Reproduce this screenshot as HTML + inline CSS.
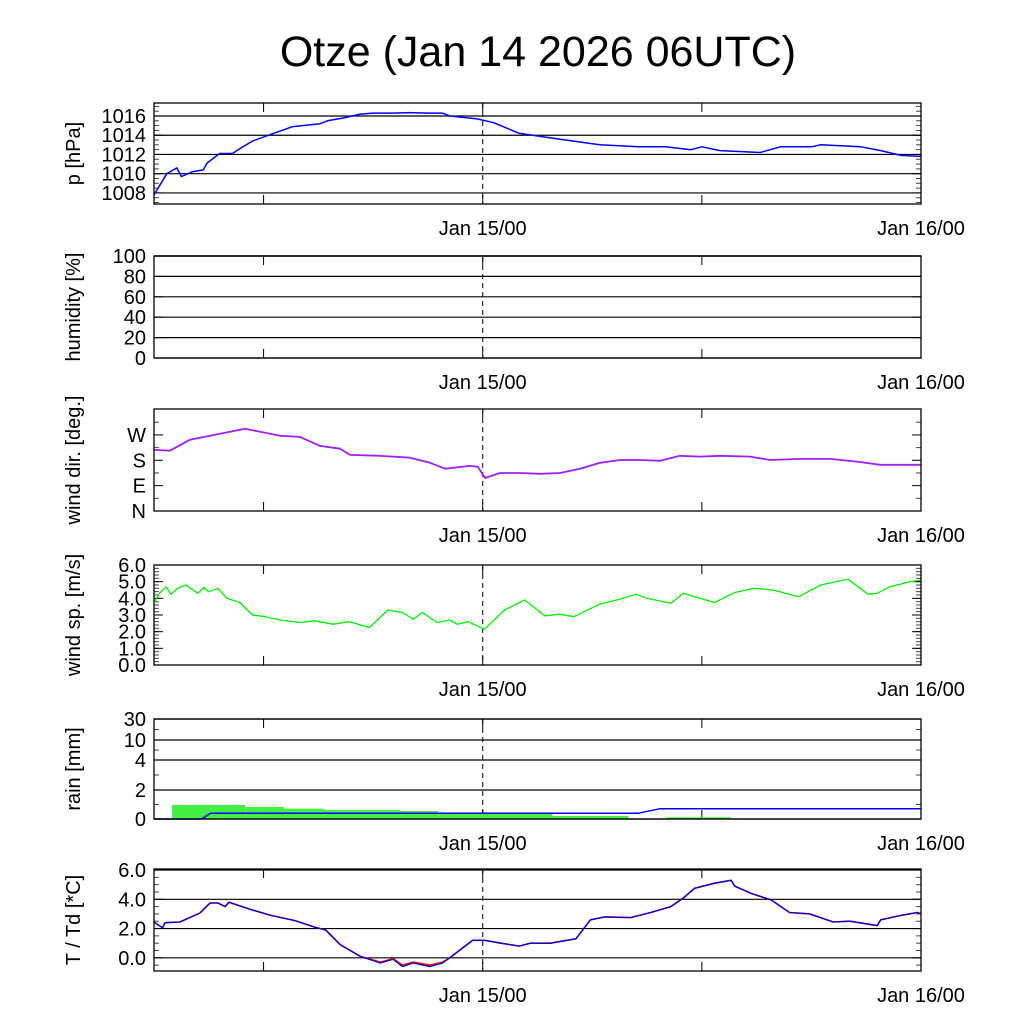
<!DOCTYPE html>
<html><head><meta charset="utf-8"><style>
html,body{margin:0;padding:0;background:#fff;width:1024px;height:1024px;overflow:hidden}
svg text{font-family:"Liberation Sans",sans-serif}
</style></head><body>
<svg id="chart" width="1024" height="1024" viewBox="0 0 1024 1024" xmlns="http://www.w3.org/2000/svg">
<text x="538" y="66" font-size="43" text-anchor="middle">Otze (Jan 14 2026 06UTC)</text>
</svg>
<script>
// time axis: hours since Jan 14 06UTC
const xTickHours = [6, 18, 30];
const xLabelHours = [18, 42];
const xLabels = ["Jan 15/00", "Jan 16/00"];

const pHours = [0,0.7,1.25,1.5,2.1,2.7,2.9,3.6,4.3,4.7,5.4,6.4,7.6,9.1,9.5,10.4,11.3,12,13,14,15,15.8,16.2,17.7,18.6,20,21.1,22.2,24.4,26.6,28,29.4,30,31,33.2,34.3,36,36.5,38.7,39.8,40.9,42];
const pVals = [1007.8,1010.0,1010.6,1009.7,1010.2,1010.4,1011.1,1012.1,1012.1,1012.6,1013.4,1014.1,1014.9,1015.2,1015.5,1015.8,1016.2,1016.3,1016.3,1016.35,1016.3,1016.3,1016.0,1015.7,1015.3,1014.2,1013.9,1013.6,1013.0,1012.8,1012.8,1012.5,1012.8,1012.4,1012.2,1012.8,1012.8,1013.0,1012.8,1012.4,1011.9,1011.8];
const pTicks = [1008,1010,1012,1014,1016];

const rhHours = [0,42];
const rhVals = [100,100];
const rhTicks = [0,20,40,60,80,100];

const wdX = [154,170,190,220,245,260,280,300,320,340,350,380,410,430,445,470,478,485,500,520,540,560,580,600,620,640,660,680,700,720,750,770,800,830,860,880,921];
const wdHours = wdX.map(x => (x-154)/18.26);
const wdVals = [217,214,253,274,292,281,267,263,231,221,199,196,189,171,150,160,157,117,135,135,132,135,150,171,181,181,178,196,193,196,193,181,185,185,174,164,164];
const wdTicks = [0,90,180,270];
const wdLabels = ["N","E","S","W"];

const wsHours = [0,0.3,0.66,0.93,1.3,1.75,2.4,2.74,3,3.5,4,4.7,5.4,6.1,6.9,8,8.8,9.8,10.7,11.8,12.8,13.6,14.2,14.7,15.5,16.2,16.6,17.2,18.1,19.2,20.3,21.4,22.2,23,24.4,25.5,26.4,27,28.3,29,29.6,30.7,31.8,32.9,33.9,35.3,36.5,38,39.1,39.6,40.3,41.4,42];
const wsVals = [3.7,4.3,4.7,4.25,4.6,4.8,4.3,4.65,4.4,4.6,4.0,3.75,3.0,2.9,2.7,2.55,2.65,2.45,2.6,2.25,3.3,3.15,2.75,3.15,2.55,2.7,2.45,2.6,2.15,3.3,3.9,2.95,3.05,2.9,3.65,3.95,4.25,4.0,3.7,4.3,4.1,3.75,4.35,4.6,4.5,4.1,4.8,5.15,4.25,4.3,4.7,5.0,5.1];
const wsTicks = [0,1,2,3,4,5,6];

const rainStart = [0.99,4.99,7.12,9.32,13.48,15.56,21.8,28.05];
const rainEnd = [4.99,7.12,9.32,13.48,15.56,21.8,25.97,31.6];
const rainVals = [0.97,0.83,0.71,0.62,0.55,0.46,0.21,0.12];
const accHours = [0,2.6,3.1,26.5,27.7,42];
const accVals = [0,0,0.39,0.39,0.71,0.71];
const rainTicks = [0,2,4,10,30];

const tHours = [0,0.47,0.6,1.42,2.5,3.07,3.5,3.9,4.1,5.3,6.4,7.7,8.8,9.4,10.2,11.3,12.4,13.1,13.6,14.2,15.1,15.8,16.2,17.45,18.1,19,20,20.6,21.7,23.1,23.9,24.7,26.1,27.2,28.3,29,29.6,30.7,31.6,31.8,32.7,33.8,34.8,35.9,37.2,38.1,39.6,39.8,40.9,41.8,42];
const tVals = [2.45,2.05,2.4,2.45,3.05,3.75,3.75,3.5,3.8,3.3,2.9,2.55,2.1,1.9,0.9,0.1,-0.35,-0.1,-0.6,-0.35,-0.6,-0.35,0,1.2,1.2,1.0,0.8,1.0,1.0,1.3,2.6,2.8,2.75,3.1,3.5,4.1,4.75,5.1,5.3,4.9,4.4,3.95,3.1,3.0,2.45,2.5,2.2,2.6,2.9,3.1,3.0];
const tdVals = [2.45,2.05,2.4,2.45,3.05,3.75,3.75,3.5,3.8,3.3,2.9,2.55,2.1,1.9,0.9,0.1,-0.3,-0.05,-0.5,-0.3,-0.5,-0.3,0,1.2,1.2,1.0,0.8,1.0,1.0,1.3,2.6,2.8,2.75,3.1,3.5,4.1,4.75,5.1,5.3,4.9,4.4,3.95,3.1,3.0,2.45,2.5,2.2,2.6,2.9,3.1,3.0];
const tTicks = [0,2,4,6];

const svg = document.getElementById('chart');
const NS = 'http://www.w3.org/2000/svg';
const L = 154, R = 921, H0 = 0, H1 = 42;
const FS = 20;
const xs = h => L + (h - H0) / (H1 - H0) * (R - L);
function mk(tag, attrs, parent) {
  const e = document.createElementNS(NS, tag);
  for (const k in attrs) e.setAttribute(k, attrs[k]);
  (parent || svg).appendChild(e);
  return e;
}
function linScale(d0, d1, top, bot) { return v => bot - (v - d0) / (d1 - d0) * (bot - top); }
function pwScale(dom, rng) {
  return v => {
    for (let i = 0; i < dom.length - 1; i++) {
      if (v <= dom[i+1] || i === dom.length - 2) {
        return rng[i] + (v - dom[i]) / (dom[i+1] - dom[i]) * (rng[i+1] - rng[i]);
      }
    }
  };
}
function panel(name, top, bot, ys, ticks, labels, fmt, grid, minorTicks, ylabel) {
  const g = mk('g', {});
  
  
  if (grid) ticks.forEach(t => {
    const gl = mk('line', {x1: L, x2: R, y1: ys(t), y2: ys(t), stroke: '#000', 'stroke-width': 1.2}, g);
    
    
  });
  (minorTicks || []).forEach(t => {
    mk('line', {x1: L, x2: L + 5, y1: ys(t), y2: ys(t), stroke: '#444', 'stroke-width': 1}, g);
    mk('line', {x1: R - 5, x2: R, y1: ys(t), y2: ys(t), stroke: '#444', 'stroke-width': 1}, g);
  });
  ticks.forEach((t, i) => {
    mk('line', {x1: L, x2: L + 9, y1: ys(t), y2: ys(t), stroke: '#000'}, g);
    mk('line', {x1: R - 9, x2: R, y1: ys(t), y2: ys(t), stroke: '#000'}, g);
    const tx = mk('text', {x: L - 8, y: ys(t) + 7, 'font-size': FS, 'text-anchor': 'end'}, g);
    
    
    tx.textContent = labels ? labels[i] : fmt(t);
  });
  xTickHours.forEach(h => {
    mk('line', {x1: xs(h), x2: xs(h), y1: bot, y2: bot - 9, stroke: '#000'}, g);
    mk('line', {x1: xs(h), x2: xs(h), y1: top, y2: top + 9, stroke: '#000'}, g);
  });
  const dl = mk('line', {x1: xs(18), x2: xs(18), y1: top, y2: bot, stroke: '#000', 'stroke-dasharray': '5,4'}, g);
  
  
  xLabelHours.forEach((h, i) => {
    const tx = mk('text', {x: xs(h), y: bot + 31, 'font-size': FS, 'text-anchor': 'middle'}, g);
    
    
    tx.textContent = xLabels[i];
  });
  const yl = mk('text', {x: 0, y: 0, 'font-size': FS, 'text-anchor': 'middle', transform: `translate(80,${(top + bot) / 2}) rotate(-90)`}, g);
  
  
  yl.textContent = ylabel;
  return g;
}
function frame(g, top, bot) {
  mk('rect', {x: L, y: top, width: R - L, height: bot - top, fill: 'none', stroke: '#000', 'stroke-width': 1.3}, g);
}
function line(g, hours, vals, ys, color, name, w) {
  const d = hours.map((h, i) => (i ? 'L' : 'M') + xs(h).toFixed(1) + ',' + ys(vals[i]).toFixed(1)).join('');
  const p = mk('path', {d: d, fill: 'none', stroke: color, 'stroke-width': w || 1.5, 'stroke-linejoin': 'round'}, g);
  
  
}
function range(a, b, s) { const r = []; for (let v = a; v <= b + 1e-9; v += s) r.push(+v.toFixed(3)); return r; }

// pressure
let ys = linScale(1006.85, 1017.35, 103, 204);
let g = panel('pressure', 103, 204, ys, pTicks, null, v => v, true, range(1007, 1017, 0.5), 'p [hPa]');
line(g, pHours, pVals, ys, '#0000ff', 'pressure-line');
frame(g, 103, 204);

// humidity
ys = linScale(0, 100, 256, 358);
g = panel('humidity', 256, 358, ys, rhTicks, null, v => v, true, [], 'humidity [%]');
line(g, rhHours, rhVals, ys, '#006400', 'humidity-line');
frame(g, 256, 358);

// wind direction
ys = linScale(0, 362, 409, 511);
g = panel('wind-dir', 409, 511, ys, wdTicks, wdLabels, null, false, [45, 135, 225, 315], 'wind dir. [deg.]');
line(g, wdHours, wdVals, ys, '#a020f0', 'wind-direction-line', 1.8);
frame(g, 409, 511);

// wind speed
ys = linScale(0, 6.0, 565, 665);
g = panel('wind-speed', 565, 665, ys, wsTicks, null, v => v.toFixed(1), false, range(0, 6, 0.2), 'wind sp. [m/s]');
line(g, wsHours, wsVals, ys, '#00ee00', 'wind-speed-line', 1.3);
frame(g, 565, 665);

// rain
ys = pwScale(rainTicks, [819, 790, 760, 740, 719]);
g = panel('rain', 719, 819, ys, rainTicks, null, v => v, true, [1, 3, 7, 20], 'rain [mm]');
rainVals.forEach((v, i) => {
  const r = mk('rect', {x: xs(rainStart[i]), y: ys(v), width: xs(rainEnd[i]) - xs(rainStart[i]), height: ys(0) - ys(v), fill: '#44ee44'}, g);
  
  
});
line(g, accHours, accVals, ys, '#0000ff', 'rain-accumulated-line');
frame(g, 719, 819);

// temperature
ys = linScale(-0.9, 6.07, 869, 971);
g = panel('temperature', 869, 971, ys, tTicks, null, v => v.toFixed(1), true, range(-0.5, 6, 0.5), 'T / Td [*C]');
line(g, tHours, tdVals, ys, '#ff0000', 'dewpoint-line', 1.6);
line(g, tHours, tVals, ys, '#0000cc', 'temperature-line', 1.3);
frame(g, 869, 971);
</script>
</body></html>
